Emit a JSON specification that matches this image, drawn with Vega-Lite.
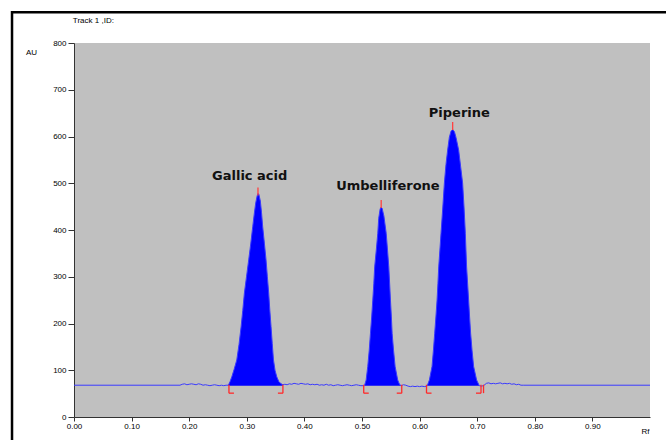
{
  "$schema": "https://vega.github.io/schema/vega-lite/v6.json",
  "width": 576,
  "height": 374,
  "autosize": "none",
  "padding": {"left": 74, "top": 43, "right": 16, "bottom": 23},
  "background": "#ffffff",
  "config": {
    "view": {"fill": "#c0c0c0", "stroke": null},
    "axis": {"grid": false, "domainColor": "#333333", "tickColor": "#333333", "labelColor": "#000000", "labelFont": "Liberation Sans", "labelFontSize": 8, "titleFont": "Liberation Sans", "titleFontSize": 8, "titleFontWeight": "normal", "titleColor": "#000000", "labelFlush": false, "labelOverlap": false}
  },
  "datasets": {
    "trace": [
      {"rf": 0.000, "au": 68}, {"rf": 0.184, "au": 68}, {"rf": 0.188, "au": 70}, {"rf": 0.192, "au": 71}, {"rf": 0.196, "au": 69}, {"rf": 0.200, "au": 70}, {"rf": 0.204, "au": 71}, {"rf": 0.208, "au": 70}, {"rf": 0.212, "au": 69}, {"rf": 0.216, "au": 71}, {"rf": 0.220, "au": 70}, {"rf": 0.224, "au": 68}, {"rf": 0.228, "au": 69}, {"rf": 0.232, "au": 68}, {"rf": 0.236, "au": 67}, {"rf": 0.240, "au": 68}, {"rf": 0.244, "au": 69}, {"rf": 0.248, "au": 68}, {"rf": 0.252, "au": 67}, {"rf": 0.256, "au": 68}, {"rf": 0.260, "au": 67}, {"rf": 0.264, "au": 68},
      {"rf": 0.268, "au": 68, "p": "G"}, {"rf": 0.271, "au": 76, "p": "G"}, {"rf": 0.274, "au": 86, "p": "G"}, {"rf": 0.278, "au": 102, "p": "G"}, {"rf": 0.2826, "au": 122, "p": "G"}, {"rf": 0.2865, "au": 155, "p": "G"}, {"rf": 0.2901, "au": 193, "p": "G"}, {"rf": 0.293, "au": 228, "p": "G"}, {"rf": 0.2958, "au": 265, "p": "G"}, {"rf": 0.2995, "au": 300, "p": "G"}, {"rf": 0.3033, "au": 336, "p": "G"}, {"rf": 0.307, "au": 372, "p": "G"}, {"rf": 0.3103, "au": 407, "p": "G"}, {"rf": 0.313, "au": 435, "p": "G"}, {"rf": 0.3155, "au": 458, "p": "G"}, {"rf": 0.318, "au": 473, "p": "G"}, {"rf": 0.3195, "au": 478, "p": "G"}, {"rf": 0.321, "au": 476, "p": "G"}, {"rf": 0.3235, "au": 462, "p": "G"}, {"rf": 0.3255, "au": 438, "p": "G"}, {"rf": 0.3276, "au": 407, "p": "G"}, {"rf": 0.3305, "au": 372, "p": "G"}, {"rf": 0.3334, "au": 336, "p": "G"}, {"rf": 0.3357, "au": 300, "p": "G"}, {"rf": 0.338, "au": 265, "p": "G"}, {"rf": 0.34, "au": 228, "p": "G"}, {"rf": 0.3421, "au": 193, "p": "G"}, {"rf": 0.3442, "au": 157, "p": "G"}, {"rf": 0.3463, "au": 122, "p": "G"}, {"rf": 0.349, "au": 100, "p": "G"}, {"rf": 0.352, "au": 86, "p": "G"}, {"rf": 0.3555, "au": 76, "p": "G"}, {"rf": 0.3595, "au": 71, "p": "G"}, {"rf": 0.3627, "au": 69, "p": "G"},
      {"rf": 0.366, "au": 70}, {"rf": 0.370, "au": 69}, {"rf": 0.374, "au": 71}, {"rf": 0.378, "au": 70}, {"rf": 0.382, "au": 72}, {"rf": 0.386, "au": 71}, {"rf": 0.390, "au": 70}, {"rf": 0.394, "au": 72}, {"rf": 0.398, "au": 71}, {"rf": 0.402, "au": 70}, {"rf": 0.406, "au": 71}, {"rf": 0.410, "au": 69}, {"rf": 0.414, "au": 70}, {"rf": 0.418, "au": 69}, {"rf": 0.422, "au": 70}, {"rf": 0.426, "au": 68}, {"rf": 0.430, "au": 69}, {"rf": 0.434, "au": 68}, {"rf": 0.438, "au": 70}, {"rf": 0.442, "au": 68}, {"rf": 0.446, "au": 69}, {"rf": 0.450, "au": 67}, {"rf": 0.454, "au": 68}, {"rf": 0.458, "au": 69}, {"rf": 0.462, "au": 68}, {"rf": 0.466, "au": 67}, {"rf": 0.470, "au": 68}, {"rf": 0.474, "au": 69}, {"rf": 0.478, "au": 68}, {"rf": 0.482, "au": 67}, {"rf": 0.486, "au": 68}, {"rf": 0.490, "au": 69}, {"rf": 0.494, "au": 68}, {"rf": 0.498, "au": 67},
      {"rf": 0.5043, "au": 67, "p": "U"}, {"rf": 0.5072, "au": 79, "p": "U"}, {"rf": 0.51, "au": 108, "p": "U"}, {"rf": 0.5125, "au": 142, "p": "U"}, {"rf": 0.5147, "au": 179, "p": "U"}, {"rf": 0.5168, "au": 214, "p": "U"}, {"rf": 0.5187, "au": 250, "p": "U"}, {"rf": 0.5205, "au": 285, "p": "U"}, {"rf": 0.522, "au": 321, "p": "U"}, {"rf": 0.5248, "au": 357, "p": "U"}, {"rf": 0.5274, "au": 393, "p": "U"}, {"rf": 0.529, "au": 425, "p": "U"}, {"rf": 0.5315, "au": 445, "p": "U"}, {"rf": 0.5333, "au": 449, "p": "U"}, {"rf": 0.535, "au": 446, "p": "U"}, {"rf": 0.538, "au": 430, "p": "U"}, {"rf": 0.542, "au": 393, "p": "U"}, {"rf": 0.5443, "au": 357, "p": "U"}, {"rf": 0.5465, "au": 321, "p": "U"}, {"rf": 0.548, "au": 285, "p": "U"}, {"rf": 0.5494, "au": 250, "p": "U"}, {"rf": 0.551, "au": 214, "p": "U"}, {"rf": 0.5523, "au": 179, "p": "U"}, {"rf": 0.5548, "au": 142, "p": "U"}, {"rf": 0.5575, "au": 108, "p": "U"}, {"rf": 0.562, "au": 79, "p": "U"}, {"rf": 0.565, "au": 70, "p": "U"}, {"rf": 0.568, "au": 67, "p": "U"},
      {"rf": 0.572, "au": 69}, {"rf": 0.576, "au": 68}, {"rf": 0.580, "au": 66}, {"rf": 0.584, "au": 65}, {"rf": 0.588, "au": 66}, {"rf": 0.592, "au": 65}, {"rf": 0.596, "au": 66}, {"rf": 0.600, "au": 65}, {"rf": 0.604, "au": 66}, {"rf": 0.608, "au": 65},
      {"rf": 0.613, "au": 66, "p": "P"}, {"rf": 0.617, "au": 79, "p": "P"}, {"rf": 0.6216, "au": 108, "p": "P"}, {"rf": 0.624, "au": 143, "p": "P"}, {"rf": 0.6262, "au": 179, "p": "P"}, {"rf": 0.6283, "au": 214, "p": "P"}, {"rf": 0.6303, "au": 250, "p": "P"}, {"rf": 0.6318, "au": 285, "p": "P"}, {"rf": 0.6332, "au": 321, "p": "P"}, {"rf": 0.6352, "au": 357, "p": "P"}, {"rf": 0.6372, "au": 393, "p": "P"}, {"rf": 0.6402, "au": 447, "p": "P"}, {"rf": 0.643, "au": 500, "p": "P"}, {"rf": 0.6458, "au": 540, "p": "P"}, {"rf": 0.6487, "au": 571, "p": "P"}, {"rf": 0.6516, "au": 598, "p": "P"}, {"rf": 0.6545, "au": 611, "p": "P"}, {"rf": 0.6574, "au": 615, "p": "P"}, {"rf": 0.6605, "au": 610, "p": "P"}, {"rf": 0.6632, "au": 598, "p": "P"}, {"rf": 0.6678, "au": 571, "p": "P"}, {"rf": 0.6712, "au": 536, "p": "P"}, {"rf": 0.6747, "au": 500, "p": "P"}, {"rf": 0.6772, "au": 447, "p": "P"}, {"rf": 0.6794, "au": 393, "p": "P"}, {"rf": 0.6805, "au": 357, "p": "P"}, {"rf": 0.6816, "au": 321, "p": "P"}, {"rf": 0.6834, "au": 285, "p": "P"}, {"rf": 0.6851, "au": 250, "p": "P"}, {"rf": 0.6868, "au": 214, "p": "P"}, {"rf": 0.6886, "au": 179, "p": "P"}, {"rf": 0.691, "au": 143, "p": "P"}, {"rf": 0.6938, "au": 108, "p": "P"}, {"rf": 0.699, "au": 79, "p": "P"}, {"rf": 0.7036, "au": 67, "p": "P"},
      {"rf": 0.708, "au": 66}, {"rf": 0.712, "au": 68}, {"rf": 0.716, "au": 72}, {"rf": 0.720, "au": 73}, {"rf": 0.724, "au": 71}, {"rf": 0.728, "au": 72}, {"rf": 0.732, "au": 71}, {"rf": 0.736, "au": 72}, {"rf": 0.740, "au": 73}, {"rf": 0.744, "au": 71}, {"rf": 0.748, "au": 72}, {"rf": 0.752, "au": 71}, {"rf": 0.756, "au": 72}, {"rf": 0.760, "au": 70}, {"rf": 0.764, "au": 71}, {"rf": 0.768, "au": 69}, {"rf": 0.772, "au": 70}, {"rf": 0.776, "au": 68}, {"rf": 0.780, "au": 68}, {"rf": 1.000, "au": 68}
    ],
    "peaks": [
      {"name": "Gallic acid", "apexRf": 0.3194, "apexAU": 474, "labelRf": 0.305, "labelAU": 515},
      {"name": "Umbelliferone", "apexRf": 0.5333, "apexAU": 447, "labelRf": 0.545, "labelAU": 494},
      {"name": "Piperine", "apexRf": 0.6574, "apexAU": 614, "labelRf": 0.669, "labelAU": 650}
    ],
    "bounds": [
      {"rf": 0.269, "side": "start"}, {"rf": 0.3627, "side": "end"},
      {"rf": 0.503, "side": "start"}, {"rf": 0.569, "side": "end"},
      {"rf": 0.612, "side": "start"}, {"rf": 0.7066, "side": "end"},
      {"rf": 0.711, "side": "extra"}
    ],
    "header": [{"label": "Track  1 ,ID:"}]
  },
  "layer": [
    {
      "data": {"name": "trace"},
      "transform": [{"filter": "datum.p != null"}],
      "mark": {"type": "area", "color": "#0000ff", "opacity": 1},
      "encoding": {
        "x": {"field": "rf", "type": "quantitative", "scale": {"domain": [0, 1], "nice": false},
          "axis": {"values": [0, 0.1, 0.2, 0.3, 0.4, 0.5, 0.6, 0.7, 0.8, 0.9], "format": ".2f", "tickSize": 4, "labelPadding": 1, "title": "Rf", "titleX": 571, "titleY": 14, "titleAlign": "center", "titleBaseline": "middle"}},
        "y": {"field": "au", "type": "quantitative", "scale": {"domain": [0, 800], "nice": false},
          "axis": {"values": [0, 100, 200, 300, 400, 500, 600, 700, 800], "tickSize": 6, "labelPadding": 2, "title": "AU", "titleAngle": 0, "titleX": -43, "titleY": 9, "titleAlign": "center", "titleBaseline": "middle"}},
        "y2": {"datum": 67},
        "detail": {"field": "p"}
      }
    },
    {
      "data": {"name": "trace"},
      "mark": {"type": "line", "color": "#3a3aff", "strokeWidth": 1},
      "encoding": {
        "x": {"field": "rf", "type": "quantitative"},
        "y": {"field": "au", "type": "quantitative"}
      }
    },
    {
      "data": {"name": "bounds"},
      "mark": {"type": "rule", "color": "#ff2a2a", "strokeWidth": 1.3},
      "encoding": {
        "x": {"field": "rf", "type": "quantitative"},
        "y": {"datum": 69},
        "y2": {"datum": 51}
      }
    },
    {
      "data": {"name": "bounds"},
      "transform": [{"filter": "datum.side == 'start'"}],
      "mark": {"type": "rule", "color": "#ff2a2a", "strokeWidth": 1.3, "x2Offset": 5},
      "encoding": {
        "x": {"field": "rf", "type": "quantitative"},
        "x2": {"field": "rf"},
        "y": {"datum": 51}
      }
    },
    {
      "data": {"name": "bounds"},
      "transform": [{"filter": "datum.side == 'end'"}],
      "mark": {"type": "rule", "color": "#ff2a2a", "strokeWidth": 1.3, "x2Offset": -5},
      "encoding": {
        "x": {"field": "rf", "type": "quantitative"},
        "x2": {"field": "rf"},
        "y": {"datum": 51}
      }
    },
    {
      "data": {"name": "peaks"},
      "mark": {"type": "rule", "color": "#ff4040", "strokeWidth": 1.3, "y2Offset": -8},
      "encoding": {
        "x": {"field": "apexRf", "type": "quantitative"},
        "y": {"field": "apexAU", "type": "quantitative"},
        "y2": {"field": "apexAU"}
      }
    },
    {
      "data": {"name": "peaks"},
      "mark": {"type": "text", "font": "DejaVu Sans", "fontWeight": "bold", "fontSize": 13, "color": "#111111", "align": "center", "baseline": "middle"},
      "encoding": {
        "x": {"field": "labelRf", "type": "quantitative"},
        "y": {"field": "labelAU", "type": "quantitative"},
        "text": {"field": "name"}
      }
    },
    {
      "data": {"name": "header"},
      "mark": {"type": "text", "font": "Liberation Sans", "fontSize": 8, "color": "#000000", "align": "left", "baseline": "middle", "clip": false},
      "encoding": {
        "x": {"datum": -0.002},
        "y": {"datum": 847},
        "text": {"field": "label"}
      }
    },
    {
      "data": {"name": "header"},
      "mark": {"type": "rect", "fill": null, "fillOpacity": 0, "stroke": "#000000", "strokeWidth": 2.5, "clip": false},
      "encoding": {
        "x": {"datum": -0.1076},
        "x2": {"datum": 1.2},
        "y": {"datum": 866},
        "y2": {"datum": -100}
      }
    }
  ]
}
